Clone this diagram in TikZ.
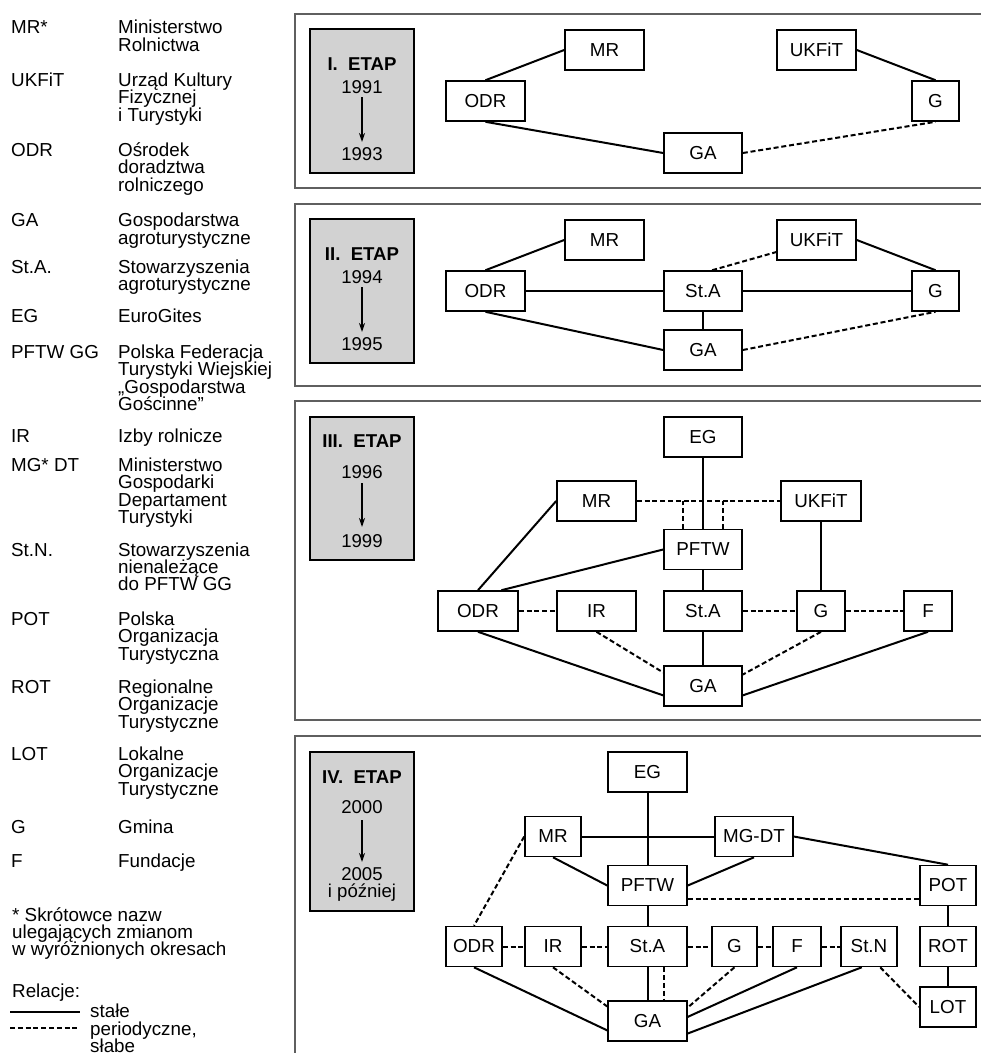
\documentclass[tikz,border=0pt]{standalone}
\usepackage{fontspec}
\setmainfont{Liberation Sans}
\usetikzlibrary{calc,arrows.meta}
\definecolor{framegray}{RGB}{95,95,95}
\definecolor{etapfill}{RGB}{210,210,210}
\begin{document}
\begin{tikzpicture}[x=1pt,y=-1pt,
  box/.style={draw=black,line width=1.6pt,fill=white,minimum height=40pt,inner sep=0pt,font=\fontsize{18.8}{20}\selectfont},
  bw/.style={minimum width=#1pt},
  frame/.style={draw=framegray,line width=2pt},
  etap/.style={draw=black,line width=1.7pt,fill=etapfill,inner sep=0pt},
  etxt/.style={anchor=base,inner sep=0pt,font=\fontsize{18.6}{20}\selectfont},
  etxtb/.style={anchor=base,inner sep=0pt,font=\fontsize{18.6}{20}\selectfont\bfseries},
  con/.style={line width=2pt},
  dsh/.style={line width=2pt,dash pattern=on 5pt off 2.8pt},
  leg/.style={anchor=base west,inner sep=0pt,font=\fontsize{18.8}{20}\selectfont},
  yarrow/.style={line width=1.6pt,-{Stealth[length=9pt,width=6pt]}}
]
\useasboundingbox (0,0) rectangle (981,1053);
\clip (0,0) rectangle (981,1053);

% ---------------- legend ----------------
\node[leg] (lMR) at (11,33) {MR*};
\node[leg] (lMRa) at (118,33) {Ministerstwo};
\node[leg] (lMRb) at (118,51) {Rolnictwa};
\node[leg] (lUK) at (11,86) {UKFiT};
\node[leg] (lUKa) at (118,86) {Urząd Kultury};
\node[leg] (lUKb) at (118,103.5) {Fizycznej};
\node[leg] (lUKc) at (118,121) {i Turystyki};
\node[leg] (lOD) at (11,156) {ODR};
\node[leg] (lODa) at (118,156) {Ośrodek};
\node[leg] (lODb) at (118,173.5) {doradztwa};
\node[leg] (lODc) at (118,191) {rolniczego};
\node[leg] (lGA) at (11,226.5) {GA};
\node[leg] (lGAa) at (118,226.5) {Gospodarstwa};
\node[leg] (lGAb) at (118,244) {agroturystyczne};
\node[leg] (lSA) at (11,273) {St.A.};
\node[leg] (lSAa) at (118,273) {Stowarzyszenia};
\node[leg] (lSAb) at (118,290.5) {agroturystyczne};
\node[leg] (lEG) at (11,322) {EG};
\node[leg] (lEGa) at (118,322) {EuroGites};
\node[leg] (lPF) at (11,358.5) {PFTW GG};
\node[leg] (lPFa) at (118,358.5) {Polska Federacja};
\node[leg] (lPFb) at (118,375.5) {Turystyki Wiejskiej};
\node[leg] (lPFc) at (118,393) {„Gospodarstwa};
\node[leg] (lPFd) at (118,410) {Gościnne”};
\node[leg] (lIR) at (11,442.5) {IR};
\node[leg] (lIRa) at (118,442.5) {Izby rolnicze};
\node[leg] (lMG) at (11,471.5) {MG* DT};
\node[leg] (lMGa) at (118,471.5) {Ministerstwo};
\node[leg] (lMGb) at (118,488.5) {Gospodarki};
\node[leg] (lMGc) at (118,506) {Departament};
\node[leg] (lMGd) at (118,523) {Turystyki};
\node[leg] (lSN) at (11,556) {St.N.};
\node[leg] (lSNa) at (118,556) {Stowarzyszenia};
\node[leg] (lSNb) at (118,573) {nienależące};
\node[leg] (lSNc) at (118,590) {do PFTW GG};
\node[leg] (lPO) at (11,625) {POT};
\node[leg] (lPOa) at (118,625) {Polska};
\node[leg] (lPOb) at (118,642) {Organizacja};
\node[leg] (lPOc) at (118,660) {Turystyczna};
\node[leg] (lRO) at (11,693) {ROT};
\node[leg] (lROa) at (118,693) {Regionalne};
\node[leg] (lROb) at (118,710) {Organizacje};
\node[leg] (lROc) at (118,728) {Turystyczne};
\node[leg] (lLO) at (11,760) {LOT};
\node[leg] (lLOa) at (118,760) {Lokalne};
\node[leg] (lLOb) at (118,777) {Organizacje};
\node[leg] (lLOc) at (118,795) {Turystyczne};
\node[leg] (lG) at (11,833) {G};
\node[leg] (lGa) at (118,833) {Gmina};
\node[leg] (lF) at (11,867) {F};
\node[leg] (lFa) at (118,867) {Fundacje};
\node[leg] (lN1) at (12,921) {* Skrótowce nazw};
\node[leg] (lN2) at (12,938) {ulegających zmianom};
\node[leg] (lN3) at (12,955) {w wyróżnionych okresach};
\node[leg] (lRel) at (12,997) {Relacje:};
\coordinate (ls1) at (10,1012);
\coordinate (ls2) at (80,1012);
\draw[con] (ls1) -- (ls2);
\node[leg] (lSt) at (90,1017) {stałe};
\coordinate (ld1) at (10,1028);
\coordinate (ld2) at (80,1028);
\draw[dsh] (ld1) -- (ld2);
\node[leg] (lPe) at (90,1035) {periodyczne,};
\node[leg] (lSl) at (90,1052) {słabe};

% ---------------- panel frames ----------------
\draw[frame] (295,14) rectangle (1010,188);
\draw[frame] (295,204) rectangle (1010,386);
\draw[frame] (295,401) rectangle (1010,720);
\draw[frame] (295,736) rectangle (1010,1090);

% ---------------- panel I ----------------
\node[etap,minimum width=104pt,minimum height=144pt] (E1) at (362,101) {};
\node[etxtb] (E1t) at (362,70) {I.\ \ ETAP};
\node[etxt] (E1a) at (362,93) {1991};
\node[etxt] (E1b) at (362,160) {1993};
\coordinate (E1s) at (362,97);
\coordinate (E1e) at (362,142);
\draw[yarrow] (E1s) -- (E1e);

\node[box,bw=79] (MR1) at (604.5,50) {MR};
\node[box,bw=79] (UKF1) at (816.5,50) {UKFiT};
\node[box,bw=79] (ODR1) at (485.5,101) {ODR};
\node[box,bw=47] (G1) at (935.5,101) {G};
\node[box,bw=78] (GA1) at (703,153) {GA};
\draw[con] (ODR1.north) -- (MR1.west);
\draw[con] (ODR1.south) -- (GA1.west);
\draw[con] (UKF1.east) -- (G1.north);
\draw[dsh] (GA1.east) -- (G1.south);

% ---------------- panel II ----------------
\node[etap,minimum width=104pt,minimum height=144pt] (E2) at (362,291) {};
\node[etxtb] (E2t) at (362,260) {II.\ \ ETAP};
\node[etxt] (E2a) at (362,283) {1994};
\node[etxt] (E2b) at (362,350) {1995};
\coordinate (E2s) at (362,287);
\coordinate (E2e) at (362,332);
\draw[yarrow] (E2s) -- (E2e);

\node[box,bw=79] (MR2) at (604.5,240) {MR};
\node[box,bw=79] (UKF2) at (816.5,240) {UKFiT};
\node[box,bw=79] (ODR2) at (485.5,291) {ODR};
\node[box,bw=78] (StA2) at (703,291) {St.A};
\node[box,bw=47] (G2) at (935.5,291) {G};
\node[box,bw=78] (GA2) at (703,350) {GA};
\draw[con] (ODR2.north) -- (MR2.west);
\draw[con] (ODR2.east) -- (StA2.west);
\draw[con] (StA2.east) -- (G2.west);
\draw[con] (StA2.south) -- (GA2.north);
\draw[con] (ODR2.south) -- (GA2.west);
\draw[dsh] ($(StA2.north)!0.23!(StA2.north east)$) -- ($(UKF2.west)!0.58!(UKF2.south west)$);
\draw[con] (UKF2.east) -- (G2.north);
\draw[dsh] (GA2.east) -- (G2.south);

% ---------------- panel III ----------------
\node[etap,minimum width=104pt,minimum height=143pt] (E3) at (362,488.5) {};
\node[etxtb] (E3t) at (362,447) {III.\ \ ETAP};
\node[etxt] (E3a) at (362,478) {1996};
\node[etxt] (E3b) at (362,547) {1999};
\coordinate (E3s) at (362,483);
\coordinate (E3e) at (362,527);
\draw[yarrow] (E3s) -- (E3e);

\node[box,bw=78] (EG3) at (703,437) {EG};
\node[box,bw=79] (MR3) at (596.5,501) {MR};
\node[box,bw=80] (UKF3) at (821,501) {UKFiT};
\node[box,bw=78] (PFTW3) at (703,549.5) {PFTW};
\node[box,bw=80] (ODR3) at (478,611) {ODR};
\node[box,bw=79] (IR3) at (596.5,611) {IR};
\node[box,bw=78] (StA3) at (703,611) {St.A};
\node[box,bw=48] (G3) at (821,611) {G};
\node[box,bw=48] (F3) at (928,611) {F};
\node[box,bw=78] (GA3) at (703,686) {GA};
\draw[con] (EG3.south) -- (PFTW3.north);
\draw[dsh] (MR3.east) -- (UKF3.west);
\coordinate (d1) at ($(PFTW3.north)!0.5!(PFTW3.north west)$);
\coordinate (d2) at ($(PFTW3.north)!0.5!(PFTW3.north east)$);
\draw[dsh] (d1) -- (d1 |- MR3.east);
\draw[dsh] (d2) -- (d2 |- MR3.east);
\draw[con] (ODR3.north) -- (MR3.west);
\draw[con] ($(ODR3.north)!0.575!(ODR3.north east)$) -- (PFTW3.west);
\draw[con] (PFTW3.south) -- (StA3.north);
\draw[con] (UKF3.south) -- (G3.north);
\draw[dsh] (ODR3.east) -- (IR3.west);
\draw[dsh] (StA3.east) -- (G3.west);
\draw[dsh] (G3.east) -- (F3.west);
\draw[con] (ODR3.south) -- ($(GA3.west)!0.45!(GA3.south west)$);
\draw[dsh] (IR3.south) -- ($(GA3.west)!0.65!(GA3.north west)$);
\draw[con] (StA3.south) -- (GA3.north);
\draw[dsh] (G3.south) -- ($(GA3.east)!0.55!(GA3.north east)$);
\draw[con] (F3.south) -- ($(GA3.east)!0.45!(GA3.south east)$);

% ---------------- panel IV ----------------
\node[etap,minimum width=104pt,minimum height=159pt] (E4) at (362,831.5) {};
\node[etxtb] (E4t) at (362,783) {IV.\ \ ETAP};
\node[etxt] (E4a) at (362,813) {2000};
\node[etxt] (E4b) at (362,880) {2005};
\node[etxt] (E4c) at (362,897) {i później};
\coordinate (E4s) at (362,820);
\coordinate (E4e) at (362,862);
\draw[yarrow] (E4s) -- (E4e);

\node[box,bw=79] (EG4) at (647.5,772) {EG};
\node[box,bw=56] (MR4) at (553,836.5) {MR};
\node[box,bw=78] (MGDT4) at (754,836.5) {MG-DT};
\node[box,bw=79] (PFTW4) at (647.5,885.5) {PFTW};
\node[box,bw=56] (POT4) at (948,885.5) {POT};
\node[box,bw=56] (ODR4) at (474,946.5) {ODR};
\node[box,bw=56] (IR4) at (553,946.5) {IR};
\node[box,bw=79] (StA4) at (647.5,946.5) {St.A};
\node[box,bw=45] (G4) at (734.5,946.5) {G};
\node[box,bw=48] (F4) at (797,946.5) {F};
\node[box,bw=56] (StN4) at (869,946.5) {St.N};
\node[box,bw=56] (ROT4) at (948,946.5) {ROT};
\node[box,bw=56] (LOT4) at (948,1007) {LOT};
\node[box,bw=79] (GA4) at (647.5,1021) {GA};
\draw[con] (EG4.south) -- (PFTW4.north);
\draw[con] (MR4.east) -- (MGDT4.west);
\draw[con] (MR4.south) -- (PFTW4.west);
\draw[con] (MGDT4.south) -- (PFTW4.east);
\draw[con] (MGDT4.east) -- (POT4.north);
\coordinate (q) at ($(PFTW4.east)!0.625!(PFTW4.south east)$);
\draw[dsh] (q) -- (q -| POT4.west);
\draw[dsh] (MR4.west) -- (ODR4.north);
\draw[con] (PFTW4.south) -- (StA4.north);
\draw[con] (POT4.south) -- (ROT4.north);
\draw[con] (ROT4.south) -- (LOT4.north);
\draw[dsh] (ODR4.east) -- (IR4.west);
\draw[dsh] (IR4.east) -- (StA4.west);
\draw[dsh] (StA4.east) -- (G4.west);
\draw[dsh] (G4.east) -- (F4.west);
\draw[dsh] (F4.east) -- (StN4.west);
\draw[con] (ODR4.south) -- ($(GA4.west)!0.45!(GA4.south west)$);
\draw[dsh] (IR4.south) -- ($(GA4.west)!0.7!(GA4.north west)$);
\draw[con] (StA4.south) -- (GA4.north);
\coordinate (r) at ($(StA4.south)!0.42!(StA4.south east)$);
\draw[dsh] (r) -- (r |- GA4.north);
\draw[dsh] (G4.south) -- ($(GA4.east)!0.65!(GA4.north east)$);
\draw[con] (F4.south) -- ($(GA4.east)!0.2!(GA4.north east)$);
\draw[con] ($(StN4.south)!0.25!(StN4.south west)$) -- ($(GA4.east)!0.6!(GA4.south east)$);
\draw[dsh] ($(StN4.south)!0.39!(StN4.south east)$) -- (LOT4.west);
\end{tikzpicture}
\end{document}
